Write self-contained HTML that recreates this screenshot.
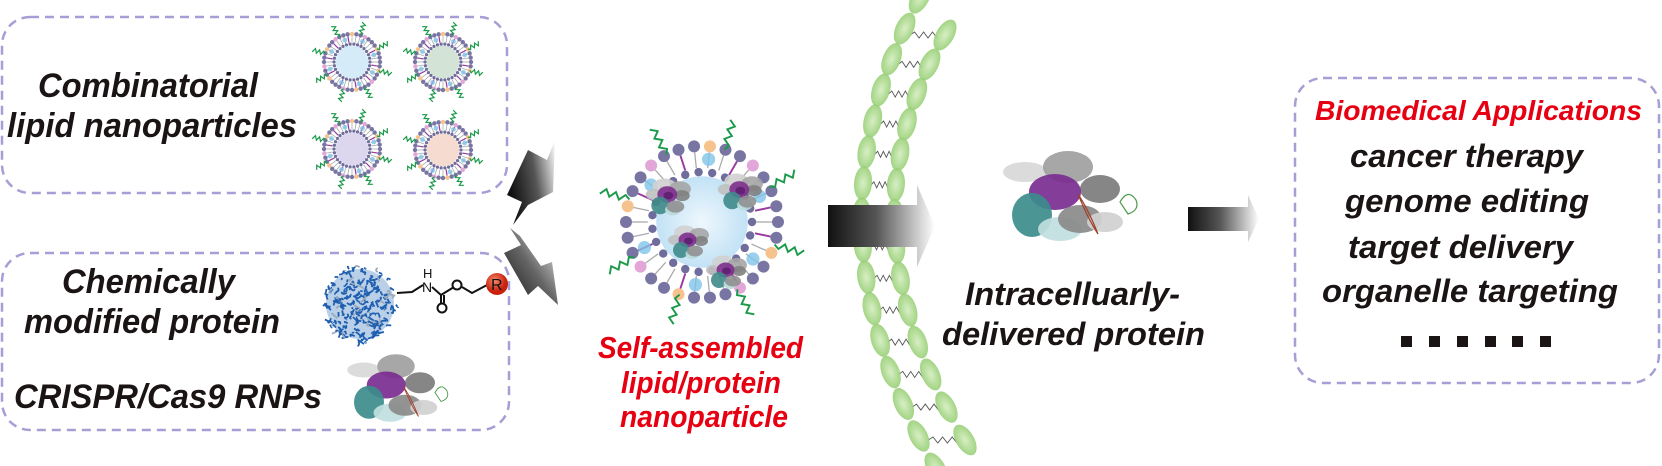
<!DOCTYPE html>
<html><head><meta charset="utf-8"><style>
html,body{margin:0;padding:0;background:#fff}
svg{display:block}
.t{font-family:"Liberation Sans",Arial,sans-serif;font-weight:bold;font-style:italic;fill:#1a1414}
.r{fill:#e60012}
</style></head><body>
<svg id="s" width="1662" height="466" viewBox="0 0 1662 466" xmlns="http://www.w3.org/2000/svg">
<defs>
<linearGradient id="ga" x1="0" x2="1" y1="0" y2="0"><stop offset="0" stop-color="#111"/><stop offset="0.45" stop-color="#555"/><stop offset="1" stop-color="#fff"/></linearGradient>
<linearGradient id="gb1" x1="0" x2="1" y1="0.3" y2="0"><stop offset="0" stop-color="#111"/><stop offset="0.5" stop-color="#555"/><stop offset="1" stop-color="#fff"/></linearGradient>
<linearGradient id="gb2" x1="0" x2="1" y1="1" y2="0"><stop offset="0" stop-color="#111"/><stop offset="0.5" stop-color="#666"/><stop offset="1" stop-color="#fff"/></linearGradient>
<radialGradient id="core"><stop offset="0" stop-color="#eef7fd"/><stop offset="1" stop-color="#c2e2f5"/></radialGradient>
<radialGradient id="mem"><stop offset="0" stop-color="#d3edbe"/><stop offset="1" stop-color="#98cf76"/></radialGradient>
<radialGradient id="rb" cx="0.4" cy="0.35"><stop offset="0" stop-color="#f58a6a"/><stop offset="1" stop-color="#c8200c"/></radialGradient>
</defs>
<g fill="none" stroke="#a59fd6" stroke-width="2.5" stroke-dasharray="9,6">
<rect x="2" y="17" width="505" height="176" rx="28"/>
<rect x="2" y="253" width="507" height="177" rx="28"/>
<rect x="1295" y="78" width="364" height="305" rx="28"/>
</g>
<g id="lnps"></g>
<g id="big"></g>
<g id="memb"></g>
<text class="t" x="38" y="97" font-size="34" textLength="220" lengthAdjust="spacingAndGlyphs">Combinatorial</text>
<text class="t" x="7" y="137" font-size="34" textLength="290" lengthAdjust="spacingAndGlyphs">lipid nanoparticles</text>
<text class="t" x="62" y="293" font-size="34" textLength="173" lengthAdjust="spacingAndGlyphs">Chemically</text>
<text class="t" x="24" y="333" font-size="34" textLength="256" lengthAdjust="spacingAndGlyphs">modified protein</text>
<text class="t" x="14" y="408" font-size="34" textLength="308" lengthAdjust="spacingAndGlyphs">CRISPR/Cas9 RNPs</text>
<g id="blue"></g>
<g stroke="#111" stroke-width="2" fill="none">
<polyline points="397,293 412,292 423,285"/>
<polyline points="432,287 441,295 454,287"/>
<line x1="441" y1="295" x2="441" y2="303"/>
<line x1="444" y1="295" x2="444" y2="303"/>
<polyline points="462,287 472,293 487,285"/>
<circle cx="442" cy="308" r="4.5"/>
<circle cx="457" cy="285" r="4.5"/>
</g>
<text x="422" y="292" font-family="Liberation Sans,sans-serif" font-size="14" fill="#111">N</text>
<text x="423" y="278" font-family="Liberation Sans,sans-serif" font-size="13" fill="#111">H</text>
<circle cx="497" cy="284" r="11" fill="url(#rb)"/>
<text x="491" y="290" font-family="Liberation Sans,sans-serif" font-size="16" fill="#111">R</text>
<g id="cas1" transform="translate(345,340) scale(0.75)"></g>
<polygon points="528,150 547,160 555,140 553,192 528,205 513,225 522,202 507,195" fill="url(#gb1)"/>
<polygon points="510,228 521,245 504,253 528,295 538,286 558,305 552,262 541,266 520,236" fill="url(#gb2)"/>
<polygon points="828,205 917,205 917,185 935,226 917,267 917,247 828,247" fill="url(#ga)"/>
<text class="t r" x="598" y="358" font-size="31" textLength="205" lengthAdjust="spacingAndGlyphs">Self-assembled</text>
<text class="t r" x="621" y="393" font-size="31" textLength="160" lengthAdjust="spacingAndGlyphs">lipid/protein</text>
<text class="t r" x="620" y="427" font-size="31" textLength="168" lengthAdjust="spacingAndGlyphs">nanoparticle</text>
<g id="cas2" transform="translate(1000,132)"></g>
<text class="t" x="965" y="305" font-size="32" textLength="215" lengthAdjust="spacingAndGlyphs">Intracelluarly-</text>
<text class="t" x="942" y="345" font-size="32" textLength="263" lengthAdjust="spacingAndGlyphs">delivered protein</text>
<polygon points="1188,207 1248,207 1248,195 1259,219 1248,242 1248,231 1188,231" fill="url(#ga)"/>
<text class="t r" x="1315" y="120" font-size="28" textLength="327" lengthAdjust="spacingAndGlyphs">Biomedical Applications</text>
<text class="t" x="1350" y="167" font-size="32" textLength="233" lengthAdjust="spacingAndGlyphs">cancer therapy</text>
<text class="t" x="1345" y="212" font-size="32" textLength="244" lengthAdjust="spacingAndGlyphs">genome editing</text>
<text class="t" x="1348" y="258" font-size="32" textLength="225" lengthAdjust="spacingAndGlyphs">target delivery</text>
<text class="t" x="1322" y="302" font-size="32" textLength="296" lengthAdjust="spacingAndGlyphs">organelle targeting</text>
<g fill="#1a1414">
<rect x="1401" y="336" width="11" height="11"/><rect x="1429" y="336" width="11" height="11"/><rect x="1457" y="336" width="11" height="11"/><rect x="1485" y="336" width="11" height="11"/><rect x="1512" y="336" width="11" height="11"/><rect x="1540" y="336" width="11" height="11"/>
</g>
</svg>
<script>
var NS="http://www.w3.org/2000/svg";
function el(p,t,a){var e=document.createElementNS(NS,t);for(var k in a)e.setAttribute(k,a[k]);p.appendChild(e);return e;}
function wave(p,x,y,ang,len,w,col,sw){var d="M"+x+","+y;var n=6;for(var i=1;i<=n;i++){var s=len*i/n;var o=(i%2?1:-1)*w;var px=x+Math.cos(ang)*s-Math.sin(ang)*o,py=y+Math.sin(ang)*s+Math.cos(ang)*o;d+=" L"+px.toFixed(1)+","+py.toFixed(1);}el(p,"path",{d:d,fill:"none",stroke:col,"stroke-width":sw});}
function lnp(p,cx,cy,R,core,nh,hr,ir,ihr,nt,tl,scale){
 el(p,"circle",{cx:cx,cy:cy,r:ir-ihr,fill:core});
 for(var i=0;i<nh;i++){var a=i*2*Math.PI/nh;el(p,"line",{x1:cx+Math.cos(a)*(ir+ihr),y1:cy+Math.sin(a)*(ir+ihr),x2:cx+Math.cos(a)*(R-hr),y2:cy+Math.sin(a)*(R-hr),stroke:"#aaa",'stroke-width':scale*0.8});
  if(i%4==1)el(p,"line",{x1:cx+Math.cos(a)*(ir+ihr),y1:cy+Math.sin(a)*(ir+ihr),x2:cx+Math.cos(a)*(R-hr),y2:cy+Math.sin(a)*(R-hr),stroke:"#9a3aa0",'stroke-width':scale*1.2});
  if(i%5==3)el(p,"circle",{cx:cx+Math.cos(a)*((R+ir)/2),cy:cy+Math.sin(a)*((R+ir)/2),r:hr*1.1,fill:"#7ec4e8",opacity:0.8});}
 for(var i=0;i<nh;i++){var a=i*2*Math.PI/nh;el(p,"circle",{cx:cx+Math.cos(a)*R,cy:cy+Math.sin(a)*R,r:hr,fill:(i%7==2?"#f6c28e":(i%7==5?"#e3a6d8":"#7875a3"))});}
 var ni=Math.round(nh*0.75);for(var i=0;i<ni;i++){var a=i*2*Math.PI/ni;el(p,"circle",{cx:cx+Math.cos(a)*ir,cy:cy+Math.sin(a)*ir,r:ihr,fill:"#6f6d9c"});}
 for(var i=0;i<nt;i++){var a=i*2*Math.PI/nt+0.3;wave(p,cx+Math.cos(a)*R,cy+Math.sin(a)*R,a,tl,scale*2,"#1a9a4a",scale*1.2);}
}
var g=document.getElementById("lnps");
lnp(g,352,62,28,"#d6ebf8",40,2.2,18,1.6,8,13,1);
lnp(g,443,62,28,"#d3e3d5",40,2.2,18,1.6,8,13,1);
lnp(g,352,149,28,"#dcd6ee",40,2.2,18,1.6,8,13,1);
lnp(g,443,150,28,"#f6dbd0",40,2.2,18,1.6,8,13,1);
function prot(p,x,y,s){
 var cols=[["#d0d0d0",-10,-25,22,14],["#a5a5a5",18,-20,20,14],["#808080",22,-8,14,10],["#c0c0c0",-30,-10,14,10],["#7e2f8e",-5,-10,18,15],["#5e1f70",-3,-8,9,7],["#3f8a8a",-18,10,16,16],["#b8dada",5,18,14,10],["#909090",10,12,16,11]];
 cols.forEach(function(c){el(p,"ellipse",{cx:x+c[1]*s,cy:y+c[2]*s,rx:c[3]*s,ry:c[4]*s,fill:c[0],opacity:0.9});});
}
var b=document.getElementById("big");
lnp(b,702,222,76,"url(#core)",30,6,50,4.2,8,30,1.6);
prot(b,670,200,0.55);prot(b,742,195,0.55);prot(b,690,245,0.5);prot(b,728,275,0.5);
var c1=document.getElementById("cas1");
var c2=document.getElementById("cas2");
function cas(p){var arr=[["#d8d8d8",-35,-25,22,10],["#a0a0a0",8,-30,25,16],["#7c7c7c",40,-8,20,14],["#7a2d8f",-5,-5,26,18],["#3d8c8c",-28,18,20,22],["#c0dede",0,32,22,12],["#8a8a8a",20,22,22,14],["#d0d0d0",45,25,18,10]];
 arr.forEach(function(c){el(p,"ellipse",{cx:60+c[1],cy:65+c[2],rx:c[3],ry:c[4],fill:c[0],opacity:0.92});});
 el(p,"path",{d:"M78,62 q10,25 20,40 q-10,-25 -20,-40",fill:"none",stroke:"#a0402a","stroke-width":1.2});
 el(p,"path",{d:"M120,70 q8,-14 16,-2 q4,10 -8,14 z",fill:"none",stroke:"#4a9a4a","stroke-width":1.2});}
cas(c1);cas(c2);
var bl=document.getElementById("blue");
(function(p){el(p,"ellipse",{cx:360,cy:304,rx:34,ry:35,fill:"#3a78c0",opacity:0.35});for(var i=0;i<320;i++){var x=322+Math.random()*75,y=266+Math.random()*76;var dx=x-360,dy=y-304;if(dx*dx/1400+dy*dy/1450>1)continue;el(p,"path",{d:"M"+x.toFixed(1)+","+y.toFixed(1)+" q"+(Math.random()*8-4).toFixed(1)+","+(Math.random()*8-4).toFixed(1)+" "+(Math.random()*10-5).toFixed(1)+","+(Math.random()*10-5).toFixed(1),fill:"none",stroke:(i%6==0?"#9ab":"#1f5fb0"),"stroke-width":1.8});}})(bl);
var m=document.getElementById("memb");
function q(P0,C,P2,t){var u=1-t;return [u*u*P0[0]+2*u*t*C[0]+t*t*P2[0],u*u*P0[1]+2*u*t*C[1]+t*t*P2[1]];}
function strand(P0,C,P2,n){var pts=[];for(var i=0;i<n;i++){var t=i/(n-1);var a=q(P0,C,P2,t),b2=q(P0,C,P2,Math.min(1,t+0.01)),b1=q(P0,C,P2,Math.max(0,t-0.01));var ang=Math.atan2(b2[1]-b1[1],b2[0]-b1[0])*180/Math.PI-90;pts.push([a[0],a[1],ang]);}return pts;}
var L=strand([920,-2],[796,227],[936,468],16),Rr=strand([945,35],[835,225],[965,440],14);
for(var i=0;i<Rr.length;i++){var a=Rr[i];var lx=q([920,-2],[796,227],[936,468],(a[1]+2)/470);var d="M"+(lx[0]+8)+","+a[1];for(var k=1;k<=6;k++){var xx=lx[0]+8+(a[0]-8-lx[0]-8)*k/6;d+=" L"+xx.toFixed(1)+","+(a[1]+(k%2?-3:3));}el(m,"path",{d:d,fill:"none",stroke:"#555","stroke-width":0.9});}
L.concat(Rr).forEach(function(p){el(m,"ellipse",{cx:p[0],cy:p[1],rx:9,ry:17,transform:"rotate("+p[2]+" "+p[0]+" "+p[1]+")",fill:"url(#mem)",opacity:0.9});});
</script>
</body></html>
